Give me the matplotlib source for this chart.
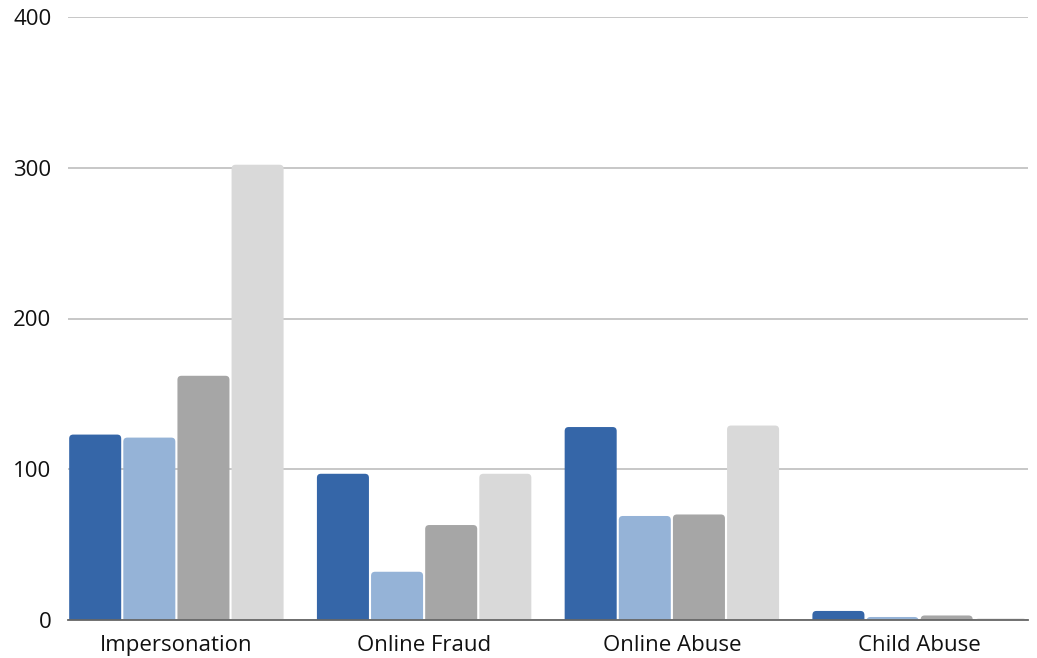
import numpy as np
import matplotlib.pyplot as plt
from matplotlib.patches import FancyBboxPatch

# kategorier och värden per serie
categories = ["Impersonation", "Online Fraud", "Online Abuse", "Child Abuse"]
serie_1 = [123, 97, 128, 6]
serie_2 = [121, 32, 69, 2]
serie_3 = [162, 63, 70, 3]
serie_4 = [302, 97, 129, 1]
yticks = [0, 100, 200, 300, 400]

colors = ["#3566A8", "#95B3D7", "#A6A6A6", "#D9D9D9"]

plt.rcParams['font.family'] = ['Open Sans', 'DejaVu Sans']

W, H = 1037, 658
fig = plt.figure(figsize=(W / 100, H / 100), dpi=100)
ax = fig.add_axes([68 / W, (H - 620) / H, 960 / W, 603 / H])

x = np.arange(len(categories))
step = 0.2185
width = 0.21
series = [serie_1, serie_2, serie_3, serie_4]

xlim = (-0.4375, 3.4375)
ylim = (0, 400)
ax.set_xlim(*xlim)
ax.set_ylim(*ylim)

# rundade hörn: radie i pixlar omräknad till dataenheter
px_x = (xlim[1] - xlim[0]) / 960
px_y = (ylim[1] - ylim[0]) / 603
r = 4

for i, (vals, col) in enumerate(zip(series, colors)):
    bars = ax.bar(x + (i - 1.5) * step, vals, width, color=col)
    for b in bars:
        b.set_visible(False)
        x0, w, h = b.get_x(), b.get_width(), b.get_height()
        rx = r * px_x
        ry = r * px_y
        patch = FancyBboxPatch(
            (x0 + rx, -ry), w - 2 * rx, h,
            boxstyle=f"round,pad={rx},rounding_size={rx}",
            mutation_aspect=ry / rx,
            facecolor=col, edgecolor="none", zorder=3, clip_on=True)
        ax.add_patch(patch)

ax.set_yticks(yticks)
ax.set_xticks(x)
ax.set_xticklabels(categories, fontsize=16, color="#111111")
ax.set_yticklabels([str(t) for t in yticks], fontsize=16, color="#111111")
ax.tick_params(axis="both", length=0)
ax.tick_params(axis="y", pad=12)
ax.tick_params(axis="x", pad=11)

ax.grid(axis="y", color="#BDBDBD", linewidth=1.2, zorder=0)
ax.set_axisbelow(True)
for side in ["top", "right", "left"]:
    ax.spines[side].set_visible(False)
ax.spines["bottom"].set_color("#666666")
ax.spines["bottom"].set_linewidth(1.3)
ax.spines["bottom"].set_zorder(4)

fig.savefig("out.png", dpi=100)
